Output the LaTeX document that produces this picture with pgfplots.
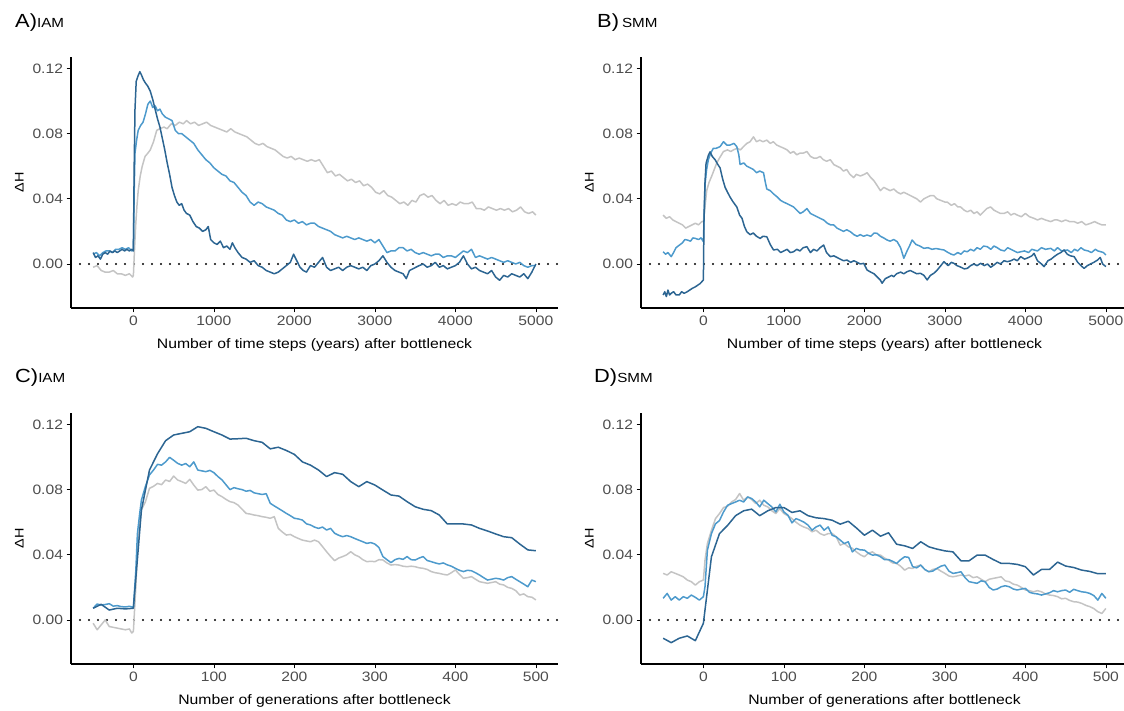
\documentclass[border=0pt]{standalone}
\usepackage{pgfplots}
\pgfplotsset{compat=1.18}
\usepackage{fontspec}
\setmainfont{Liberation Sans}[FakeStretch=1.15]
\definecolor{cgrey}{HTML}{C4C4C4}
\definecolor{clight}{HTML}{4D9ACC}
\definecolor{cdark}{HTML}{2C6592}
\definecolor{labgrey}{HTML}{4D4D4D}
\pgfplotsset{
 panel/.style={
  scale only axis, width=487pt, height=251pt,
  axis x line*=bottom, axis y line*=left,
  ymin=-0.027, ymax=0.127,
  ytick={0,0.04,0.08,0.12},
  scaled y ticks=false, scaled x ticks=false,
  yticklabel style={/pgf/number format/fixed, /pgf/number format/fixed zerofill, /pgf/number format/precision=2},
  xticklabel style={/pgf/number format/1000 sep={}},
  tick align=outside, major tick length=4.5pt,
  tick style={black, line width=0.7pt},
  axis line style={line width=1.1pt, black},
  ticklabel style={font=\fontsize{13.6}{15}\selectfont, text=labgrey},
  /pgf/number format/assume math mode=true,
  xlabel style={font=\fontsize{13.7}{16}\selectfont, at={(axis description cs:0.5,-0.147)}, anchor=center},
  ylabel style={font=\fontsize{12.5}{14}\selectfont, at={(axis description cs:-0.106,0.5)}, anchor=center},
  ylabel={ΔH},
  every axis plot/.append style={line width=1.5pt, line join=round},
 },
 zeroline/.style={black, line width=2.1pt, dash pattern=on 0pt off 9pt, line cap=round},
}
\begin{document}
\begin{tikzpicture}
% ---------------- A
\begin{axis}[panel, at={(71pt,403pt)}, anchor=south west,
  xmin=-775, xmax=5275, xtick={0,1000,2000,3000,4000,5000},
  xlabel={Number of time steps (years) after bottleneck}]
\addplot[zeroline] coordinates {(-775,0) (5275,0)};
\addplot[cgrey] coordinates {(-500,-0.002) (-450,-0.001) (-400,-0.004) (-350,-0.005) (-300,-0.005) (-250,-0.004) (-200,-0.006) (-150,-0.006) (-100,-0.007) (-50,-0.006) (-10,-0.008) (0,-0.007) (15,0.010) (30,0.025) (45,0.036) (60,0.045) (85,0.054) (110,0.060) (145,0.066) (180,0.068) (210,0.070) (250,0.075) (290,0.082) (330,0.083) (380,0.084) (420,0.083) (470,0.086) (520,0.085) (570,0.087) (620,0.086) (660,0.088) (710,0.086) (760,0.087) (810,0.085) (860,0.086) (910,0.087) (960,0.085) (1010,0.084) (1060,0.083) (1110,0.082) (1160,0.081) (1210,0.083) (1260,0.081) (1310,0.080) (1360,0.079) (1410,0.078) (1460,0.076) (1510,0.074) (1560,0.073) (1610,0.074) (1660,0.072) (1710,0.071) (1760,0.070) (1810,0.068) (1860,0.066) (1910,0.065) (1960,0.066) (2010,0.064) (2060,0.065) (2110,0.064) (2160,0.063) (2210,0.064) (2260,0.063) (2310,0.064) (2360,0.060) (2410,0.056) (2460,0.057) (2510,0.054) (2560,0.055) (2610,0.053) (2660,0.051) (2710,0.052) (2760,0.050) (2810,0.051) (2860,0.048) (2910,0.049) (2960,0.047) (3010,0.044) (3060,0.043) (3110,0.045) (3160,0.042) (3210,0.041) (3260,0.039) (3310,0.037) (3360,0.038) (3410,0.036) (3460,0.039) (3510,0.038) (3560,0.042) (3610,0.043) (3660,0.041) (3710,0.042) (3760,0.039) (3810,0.037) (3860,0.039) (3910,0.036) (3960,0.037) (4010,0.036) (4060,0.038) (4110,0.037) (4160,0.037) (4210,0.038) (4260,0.034) (4310,0.034) (4360,0.033) (4410,0.035) (4460,0.034) (4510,0.033) (4560,0.034) (4610,0.033) (4660,0.034) (4710,0.032) (4760,0.033) (4810,0.035) (4860,0.032) (4910,0.031) (4960,0.032) (5000,0.030)};
\addplot[clight] coordinates {(-500,0.006) (-460,0.007) (-420,0.005) (-380,0.007) (-340,0.008) (-300,0.008) (-260,0.007) (-220,0.009) (-180,0.009) (-140,0.010) (-100,0.009) (-60,0.010) (-20,0.008) (0,0.009) (10,0.045) (20,0.068) (40,0.076) (60,0.082) (90,0.085) (120,0.087) (150,0.092) (180,0.098) (210,0.100) (240,0.096) (270,0.097) (300,0.094) (330,0.095) (360,0.092) (400,0.090) (440,0.089) (480,0.088) (520,0.082) (560,0.080) (600,0.080) (650,0.078) (700,0.076) (750,0.074) (800,0.070) (850,0.067) (900,0.064) (950,0.062) (1000,0.059) (1050,0.057) (1100,0.055) (1150,0.054) (1200,0.051) (1250,0.050) (1300,0.047) (1350,0.044) (1400,0.042) (1450,0.038) (1500,0.036) (1550,0.038) (1600,0.037) (1650,0.035) (1700,0.034) (1750,0.033) (1800,0.031) (1850,0.030) (1900,0.027) (1950,0.026) (2000,0.027) (2050,0.025) (2100,0.026) (2150,0.024) (2200,0.025) (2250,0.025) (2300,0.023) (2350,0.022) (2400,0.021) (2450,0.020) (2500,0.018) (2550,0.017) (2600,0.016) (2650,0.017) (2700,0.016) (2750,0.015) (2800,0.016) (2850,0.015) (2900,0.014) (2950,0.015) (3000,0.013) (3050,0.015) (3100,0.011) (3150,0.007) (3200,0.008) (3250,0.008) (3300,0.010) (3350,0.010) (3400,0.008) (3450,0.009) (3500,0.007) (3550,0.006) (3600,0.007) (3650,0.006) (3700,0.005) (3750,0.006) (3800,0.006) (3850,0.004) (3900,0.005) (3950,0.005) (4000,0.004) (4050,0.006) (4100,0.008) (4150,0.007) (4200,0.009) (4250,0.004) (4300,0.005) (4350,0.004) (4400,0.003) (4450,0.004) (4500,0.003) (4550,0.002) (4600,0.001) (4650,0.002) (4700,0.001) (4750,0.000) (4800,0.001) (4850,-0.001) (4900,-0.002) (4950,-0.001) (5000,-0.001)};
\addplot[cdark] coordinates {(-500,0.007) (-470,0.004) (-440,0.005) (-410,0.003) (-380,0.006) (-350,0.007) (-320,0.006) (-290,0.008) (-260,0.007) (-230,0.008) (-200,0.007) (-170,0.008) (-140,0.009) (-110,0.008) (-80,0.009) (-50,0.008) (-20,0.009) (0,0.008) (10,0.060) (20,0.095) (35,0.112) (55,0.115) (80,0.118) (100,0.116) (125,0.113) (150,0.111) (180,0.109) (210,0.106) (240,0.101) (270,0.095) (300,0.089) (330,0.084) (360,0.077) (390,0.070) (420,0.062) (450,0.055) (480,0.047) (510,0.042) (540,0.038) (570,0.036) (600,0.037) (630,0.033) (660,0.031) (700,0.030) (740,0.026) (780,0.023) (820,0.022) (860,0.020) (900,0.021) (930,0.023) (960,0.015) (1000,0.013) (1040,0.012) (1080,0.014) (1120,0.010) (1160,0.011) (1200,0.009) (1230,0.013) (1260,0.010) (1300,0.007) (1350,0.004) (1400,0.003) (1450,0.001) (1500,0.002) (1550,-0.001) (1600,-0.002) (1650,-0.004) (1700,-0.005) (1750,-0.006) (1800,-0.005) (1850,-0.003) (1900,-0.001) (1950,0.001) (1990,0.006) (2030,0.002) (2070,-0.002) (2110,-0.004) (2150,-0.005) (2200,-0.001) (2250,-0.002) (2300,0.001) (2350,0.004) (2400,-0.002) (2450,-0.004) (2500,-0.003) (2550,-0.002) (2600,-0.004) (2650,-0.002) (2700,-0.001) (2750,-0.002) (2800,-0.003) (2850,-0.002) (2900,-0.004) (2950,-0.001) (3000,0.000) (3050,0.002) (3100,0.005) (3150,0.001) (3200,-0.002) (3250,-0.004) (3300,-0.005) (3350,-0.006) (3390,-0.009) (3430,-0.004) (3470,-0.003) (3510,-0.002) (3550,-0.001) (3600,0.000) (3650,-0.002) (3700,-0.001) (3750,0.001) (3800,-0.002) (3850,-0.001) (3900,-0.003) (3950,-0.002) (4000,-0.001) (4050,0.001) (4100,0.005) (4150,0.000) (4200,-0.003) (4250,-0.002) (4300,-0.004) (4350,-0.005) (4400,-0.006) (4450,-0.004) (4500,-0.008) (4550,-0.010) (4600,-0.007) (4650,-0.008) (4700,-0.006) (4750,-0.007) (4800,-0.008) (4850,-0.006) (4900,-0.009) (4950,-0.005) (5000,0.000)};
\end{axis}
% ---------------- B
\begin{axis}[panel, at={(641pt,403pt)}, anchor=south west,
  xmin=-775, xmax=5275, xtick={0,1000,2000,3000,4000,5000},
  xlabel={Number of time steps (years) after bottleneck}]
\addplot[zeroline] coordinates {(-775,0) (5275,0)};
\addplot[cgrey] coordinates {(-500,0.030) (-460,0.028) (-420,0.029) (-380,0.027) (-340,0.026) (-300,0.025) (-260,0.024) (-220,0.022) (-180,0.023) (-140,0.024) (-100,0.025) (-60,0.024) (-20,0.026) (0,0.026) (20,0.035) (41,0.045) (70,0.050) (104,0.054) (135,0.058) (166,0.062) (200,0.065) (249,0.069) (300,0.070) (340,0.069) (373,0.070) (420,0.071) (460,0.070) (498,0.072) (540,0.074) (580,0.075) (622,0.078) (660,0.075) (700,0.076) (740,0.075) (788,0.076) (830,0.074) (870,0.075) (910,0.073) (954,0.072) (1000,0.071) (1040,0.070) (1080,0.068) (1120,0.069) (1160,0.067) (1200,0.068) (1240,0.068) (1286,0.069) (1330,0.066) (1370,0.065) (1411,0.065) (1450,0.066) (1490,0.064) (1530,0.063) (1577,0.064) (1620,0.061) (1660,0.060) (1701,0.059) (1740,0.057) (1780,0.058) (1820,0.055) (1867,0.053) (1900,0.055) (1950,0.054) (2000,0.055) (2033,0.056) (2080,0.053) (2120,0.051) (2160,0.048) (2199,0.045) (2240,0.047) (2280,0.046) (2320,0.045) (2365,0.046) (2410,0.044) (2450,0.043) (2490,0.044) (2531,0.043) (2570,0.042) (2610,0.041) (2650,0.040) (2697,0.038) (2740,0.040) (2780,0.041) (2822,0.042) (2860,0.042) (2900,0.040) (2950,0.039) (3000,0.038) (3029,0.038) (3080,0.036) (3120,0.037) (3160,0.035) (3195,0.035) (3240,0.033) (3280,0.032) (3320,0.033) (3361,0.031) (3400,0.032) (3440,0.030) (3480,0.032) (3520,0.034) (3568,0.035) (3610,0.033) (3650,0.032) (3690,0.031) (3734,0.031) (3780,0.032) (3820,0.030) (3860,0.031) (3900,0.030) (3950,0.029) (4000,0.031) (4050,0.029) (4108,0.028) (4150,0.027) (4200,0.028) (4250,0.027) (4315,0.026) (4360,0.027) (4400,0.027) (4450,0.026) (4500,0.027) (4550,0.026) (4606,0.026) (4650,0.025) (4700,0.026) (4750,0.024) (4813,0.025) (4860,0.026) (4900,0.025) (4950,0.024) (5000,0.024)};
\addplot[clight] coordinates {(-500,0.0075) (-470,0.006) (-440,0.007) (-400,0.0045) (-370,0.007) (-340,0.010) (-300,0.0115) (-260,0.013) (-230,0.015) (-200,0.0147) (-160,0.014) (-130,0.016) (-100,0.0157) (-60,0.015) (-30,0.016) (0,0.0137) (10,0.030) (21,0.049) (40,0.058) (62,0.064) (90,0.068) (124,0.071) (160,0.071) (207,0.072) (249,0.075) (290,0.073) (332,0.073) (380,0.074) (415,0.072) (440,0.067) (456,0.061) (500,0.062) (540,0.060) (581,0.059) (620,0.058) (660,0.056) (700,0.057) (747,0.056) (770,0.050) (788,0.046) (830,0.045) (871,0.043) (920,0.041) (960,0.039) (996,0.038) (1040,0.037) (1080,0.036) (1120,0.035) (1160,0.033) (1203,0.031) (1240,0.032) (1286,0.034) (1330,0.031) (1370,0.030) (1411,0.029) (1450,0.028) (1494,0.027) (1540,0.025) (1580,0.024) (1618,0.024) (1660,0.022) (1700,0.021) (1740,0.020) (1780,0.021) (1826,0.0198) (1870,0.018) (1910,0.017) (1950,0.018) (1990,0.017) (2033,0.0178) (2080,0.017) (2120,0.019) (2158,0.0188) (2200,0.017) (2240,0.016) (2282,0.0147) (2320,0.014) (2365,0.015) (2407,0.0137) (2450,0.010) (2490,0.0035) (2530,0.008) (2560,0.011) (2593,0.0147) (2640,0.012) (2690,0.011) (2739,0.0096) (2790,0.010) (2840,0.009) (2890,0.0095) (2940,0.009) (2988,0.0086) (3040,0.007) (3080,0.006) (3112,0.0055) (3160,0.007) (3200,0.006) (3240,0.008) (3278,0.0075) (3320,0.009) (3360,0.008) (3400,0.010) (3440,0.009) (3480,0.011) (3527,0.0106) (3570,0.009) (3610,0.011) (3650,0.010) (3693,0.0086) (3740,0.008) (3780,0.010) (3820,0.009) (3860,0.008) (3900,0.007) (3942,0.0075) (3990,0.008) (4040,0.007) (4080,0.009) (4108,0.0086) (4150,0.008) (4200,0.010) (4250,0.009) (4315,0.0096) (4360,0.008) (4400,0.010) (4450,0.008) (4523,0.0086) (4570,0.007) (4610,0.009) (4650,0.008) (4690,0.010) (4730,0.0086) (4780,0.008) (4820,0.007) (4870,0.009) (4900,0.008) (4938,0.0075) (4970,0.007) (5000,0.0055)};
\addplot[cdark] coordinates {(-500,-0.019) (-480,-0.017) (-460,-0.020) (-440,-0.016) (-420,-0.019) (-400,-0.018) (-370,-0.017) (-340,-0.019) (-300,-0.019) (-270,-0.017) (-240,-0.018) (-200,-0.017) (-170,-0.016) (-140,-0.015) (-100,-0.014) (-70,-0.013) (-40,-0.012) (0,-0.0098) (8,0.029) (20,0.050) (33,0.0617) (62,0.0667) (83,0.0688) (110,0.066) (145,0.064) (180,0.061) (207,0.059) (240,0.052) (270,0.047) (300,0.044) (332,0.041) (370,0.038) (415,0.035) (450,0.030) (480,0.028) (510,0.023) (539,0.0198) (580,0.018) (620,0.019) (660,0.017) (705,0.0157) (740,0.017) (788,0.0167) (830,0.012) (871,0.0086) (920,0.009) (960,0.007) (1000,0.008) (1040,0.009) (1080,0.007) (1120,0.0075) (1160,0.009) (1200,0.008) (1240,0.010) (1286,0.0106) (1330,0.007) (1370,0.009) (1410,0.008) (1450,0.010) (1494,0.0116) (1530,0.007) (1577,0.0045) (1620,0.005) (1660,0.004) (1700,0.003) (1740,0.002) (1784,0.0024) (1830,0.001) (1870,0.002) (1910,0.001) (1950,0.000) (1992,0.0004) (2033,-0.0037) (2080,-0.005) (2120,-0.006) (2160,-0.008) (2200,-0.010) (2220,-0.0118) (2260,-0.009) (2300,-0.008) (2340,-0.007) (2365,-0.0078) (2400,-0.006) (2450,-0.005) (2490,-0.006) (2531,-0.0047) (2570,-0.004) (2610,-0.005) (2650,-0.006) (2697,-0.0057) (2740,-0.007) (2780,-0.0098) (2820,-0.007) (2863,-0.0057) (2900,-0.004) (2950,-0.001) (2988,0.0014) (3040,-0.001) (3080,0.001) (3112,0.0004) (3150,-0.001) (3200,-0.002) (3240,-0.003) (3278,-0.0027) (3320,-0.001) (3360,0.000) (3400,-0.001) (3444,0.0004) (3490,-0.001) (3530,0.000) (3570,-0.002) (3610,-0.0006) (3650,0.001) (3690,0.000) (3735,0.002) (3776,0.0014) (3820,0.002) (3860,0.003) (3900,0.002) (3942,0.0045) (3990,0.003) (4040,0.004) (4080,0.005) (4108,0.0065) (4150,0.002) (4200,0.000) (4232,-0.0016) (4280,0.002) (4320,0.003) (4357,0.0045) (4400,0.006) (4440,0.007) (4481,0.0086) (4520,0.006) (4560,0.005) (4606,0.0045) (4650,0.001) (4690,-0.001) (4730,-0.0027) (4770,-0.001) (4810,0.000) (4850,0.001) (4896,0.0024) (4930,0.004) (4960,0.000) (5000,-0.0016)};
\end{axis}
% ---------------- C
\begin{axis}[panel, at={(71pt,47pt)}, anchor=south west,
  xmin=-77.5, xmax=527.5, xtick={0,100,200,300,400,500},
  xlabel={Number of generations after bottleneck}]
\addplot[zeroline] coordinates {(-77.5,0) (527.5,0)};
\addplot[cgrey] coordinates {(-50,-0.002) (-45,-0.006) (-40,-0.003) (-35,0.000) (-30,-0.004) (-25,-0.0045) (-20,-0.005) (-15,-0.0055) (-10,-0.006) (-5,-0.0055) (-2,-0.008) (0,-0.007) (3,0.020) (5,0.043) (8,0.060) (10,0.0675) (15,0.0726) (20,0.0808) (25,0.082) (30,0.0838) (35,0.083) (40,0.0859) (45,0.085) (50,0.0883) (55,0.0859) (60,0.0849) (65,0.0838) (70,0.0863) (75,0.0828) (80,0.0797) (85,0.080) (90,0.0818) (95,0.079) (100,0.0797) (105,0.077) (110,0.0757) (115,0.074) (120,0.0726) (125,0.072) (130,0.0705) (135,0.068) (140,0.0654) (145,0.065) (150,0.0644) (155,0.064) (160,0.0634) (165,0.063) (170,0.0624) (175,0.0634) (180,0.0562) (185,0.054) (190,0.0521) (195,0.0525) (200,0.0511) (205,0.050) (210,0.049) (215,0.0485) (220,0.048) (225,0.049) (230,0.048) (235,0.045) (240,0.0419) (245,0.039) (250,0.0364) (255,0.038) (260,0.0389) (265,0.040) (270,0.0419) (275,0.040) (280,0.0389) (285,0.037) (290,0.0358) (295,0.036) (300,0.0358) (305,0.037) (310,0.0368) (315,0.035) (320,0.0337) (325,0.034) (330,0.0337) (335,0.033) (340,0.0327) (345,0.033) (350,0.0327) (355,0.032) (360,0.0317) (365,0.031) (370,0.0297) (375,0.029) (380,0.0286) (385,0.028) (390,0.0276) (395,0.029) (400,0.0307) (405,0.028) (410,0.0256) (415,0.026) (420,0.0266) (425,0.025) (430,0.0235) (435,0.023) (440,0.0225) (445,0.023) (450,0.0235) (455,0.022) (460,0.0215) (465,0.020) (470,0.0194) (475,0.018) (480,0.0153) (485,0.016) (490,0.0143) (495,0.014) (500,0.0123)};
\addplot[clight] coordinates {(-50,0.0072) (-45,0.0098) (-40,0.0092) (-35,0.0095) (-30,0.010) (-25,0.0085) (-20,0.0088) (-15,0.0082) (-10,0.0080) (-5,0.0084) (0,0.0078) (3,0.030) (5,0.053) (8,0.066) (10,0.0736) (15,0.082) (20,0.089) (25,0.092) (30,0.0955) (35,0.095) (40,0.097) (45,0.0998) (50,0.098) (55,0.0961) (60,0.095) (65,0.096) (70,0.094) (75,0.097) (80,0.092) (85,0.0915) (90,0.091) (95,0.0918) (100,0.0904) (105,0.088) (110,0.086) (115,0.083) (120,0.080) (125,0.0812) (130,0.0805) (135,0.080) (140,0.079) (145,0.0795) (150,0.078) (155,0.0775) (160,0.077) (165,0.0775) (170,0.0716) (175,0.070) (180,0.0685) (185,0.067) (190,0.0654) (195,0.064) (200,0.0624) (205,0.062) (210,0.0613) (215,0.059) (220,0.0583) (225,0.057) (230,0.0562) (235,0.057) (240,0.0552) (245,0.0562) (250,0.0532) (255,0.052) (260,0.0511) (265,0.0518) (270,0.0511) (275,0.050) (280,0.049) (285,0.048) (290,0.047) (295,0.0475) (300,0.0466) (305,0.0445) (310,0.0389) (315,0.037) (320,0.0352) (325,0.037) (330,0.0378) (335,0.0372) (340,0.0389) (345,0.037) (350,0.0368) (355,0.038) (360,0.0389) (365,0.0365) (370,0.0358) (375,0.0350) (380,0.0344) (385,0.0350) (390,0.0338) (395,0.0330) (400,0.0317) (405,0.0305) (410,0.0297) (415,0.0305) (420,0.0302) (425,0.0290) (430,0.0276) (435,0.026) (440,0.0245) (445,0.025) (450,0.0256) (455,0.0252) (460,0.0245) (465,0.026) (470,0.0266) (475,0.025) (480,0.0235) (485,0.022) (490,0.0204) (495,0.0245) (500,0.0235)};
\addplot[cdark] coordinates {(-50,0.0072) (-40,0.0096) (-30,0.0061) (-20,0.0072) (-10,0.0068) (0,0.0072) (10,0.0675) (20,0.092) (30,0.102) (40,0.110) (50,0.1135) (60,0.1145) (70,0.1155) (80,0.1186) (90,0.1176) (100,0.1155) (110,0.1135) (120,0.111) (130,0.1112) (140,0.1115) (150,0.110) (160,0.109) (170,0.105) (180,0.106) (190,0.104) (200,0.1016) (210,0.097) (220,0.095) (230,0.092) (240,0.088) (250,0.0904) (260,0.0894) (270,0.0849) (280,0.0818) (290,0.0849) (300,0.0828) (310,0.0797) (320,0.0767) (330,0.076) (340,0.0726) (350,0.0695) (360,0.0679) (370,0.0671) (380,0.0644) (390,0.0589) (400,0.0589) (410,0.0589) (420,0.0583) (430,0.0562) (440,0.0546) (450,0.0528) (460,0.0511) (470,0.0505) (480,0.0466) (490,0.043) (500,0.0425)};
\end{axis}
% ---------------- D
\begin{axis}[panel, at={(641pt,47pt)}, anchor=south west,
  xmin=-77.5, xmax=527.5, xtick={0,100,200,300,400,500},
  xlabel={Number of generations after bottleneck}]
\addplot[zeroline] coordinates {(-77.5,0) (527.5,0)};
\addplot[cgrey] coordinates {(-50,0.0286) (-45,0.0276) (-40,0.0296) (-35,0.0286) (-30,0.0276) (-25,0.0265) (-20,0.0245) (-15,0.0235) (-10,0.0214) (-5,0.0235) (0,0.0245) (2,0.0367) (5,0.047) (10,0.055) (15,0.0622) (20,0.0653) (25,0.069) (30,0.0698) (35,0.0724) (40,0.0739) (45,0.0776) (50,0.0735) (55,0.0755) (60,0.0739) (65,0.0714) (70,0.0735) (75,0.0704) (80,0.0694) (85,0.067) (90,0.0653) (95,0.0684) (100,0.0653) (105,0.064) (110,0.0622) (115,0.060) (120,0.0582) (125,0.057) (130,0.0561) (135,0.0541) (140,0.0551) (145,0.053) (150,0.052) (155,0.053) (160,0.0531) (165,0.051) (170,0.0459) (175,0.047) (180,0.0449) (185,0.044) (190,0.0418) (195,0.040) (200,0.0388) (205,0.041) (210,0.0418) (215,0.040) (220,0.0398) (225,0.038) (230,0.0367) (235,0.035) (240,0.0347) (245,0.033) (250,0.0306) (255,0.032) (260,0.0316) (265,0.033) (270,0.0337) (275,0.031) (280,0.0296) (285,0.031) (290,0.0316) (295,0.030) (300,0.0286) (305,0.027) (310,0.0265) (315,0.027) (320,0.0276) (325,0.027) (330,0.0276) (335,0.026) (340,0.0265) (345,0.025) (350,0.0235) (355,0.025) (360,0.0255) (365,0.026) (370,0.0265) (375,0.024) (380,0.0235) (385,0.022) (390,0.0214) (395,0.020) (400,0.0184) (405,0.018) (410,0.0173) (415,0.018) (420,0.0173) (425,0.016) (430,0.0153) (435,0.015) (440,0.0143) (445,0.013) (450,0.0133) (455,0.012) (460,0.0112) (465,0.011) (470,0.0102) (475,0.009) (480,0.0082) (485,0.007) (490,0.0051) (495,0.004) (500,0.0071)};
\addplot[clight] coordinates {(-50,0.0133) (-45,0.0163) (-40,0.0122) (-35,0.0143) (-30,0.0122) (-25,0.0143) (-20,0.0133) (-15,0.0153) (-10,0.0139) (-5,0.0122) (0,0.0143) (2,0.0204) (5,0.0429) (10,0.053) (15,0.059) (20,0.061) (25,0.0663) (30,0.0704) (35,0.0714) (40,0.0724) (45,0.0735) (50,0.0724) (55,0.0755) (60,0.0745) (65,0.0724) (70,0.0694) (75,0.0735) (80,0.0714) (85,0.0694) (90,0.0663) (95,0.071) (100,0.0663) (105,0.0643) (110,0.0596) (115,0.0622) (120,0.0612) (125,0.060) (130,0.0582) (135,0.0551) (140,0.0571) (145,0.0582) (150,0.0551) (155,0.0571) (160,0.052) (165,0.051) (170,0.049) (175,0.0469) (180,0.048) (185,0.0418) (190,0.0439) (195,0.043) (200,0.0429) (205,0.041) (210,0.0398) (215,0.040) (220,0.0388) (225,0.037) (230,0.0371) (235,0.036) (240,0.0347) (245,0.037) (250,0.0388) (255,0.0384) (260,0.0327) (265,0.032) (270,0.0337) (275,0.031) (280,0.0296) (285,0.030) (290,0.0316) (295,0.033) (300,0.0337) (305,0.030) (310,0.0286) (315,0.029) (320,0.0296) (325,0.026) (330,0.0235) (335,0.023) (340,0.0225) (345,0.024) (350,0.0235) (355,0.020) (360,0.0184) (365,0.019) (370,0.0204) (375,0.021) (380,0.0204) (385,0.019) (390,0.0184) (395,0.019) (400,0.0194) (405,0.017) (410,0.0163) (415,0.016) (420,0.0153) (425,0.016) (430,0.0167) (435,0.018) (440,0.0173) (445,0.018) (450,0.0184) (455,0.017) (460,0.0188) (465,0.018) (470,0.0173) (475,0.017) (480,0.0163) (485,0.015) (490,0.0122) (495,0.0163) (500,0.0133)};
\addplot[cdark] coordinates {(-50,-0.0112) (-40,-0.0139) (-30,-0.0112) (-20,-0.0098) (-10,-0.0127) (0,-0.002) (10,0.0388) (20,0.053) (30,0.058) (40,0.064) (50,0.067) (60,0.068) (70,0.064) (80,0.067) (90,0.069) (100,0.069) (110,0.066) (120,0.067) (130,0.064) (140,0.0627) (150,0.0622) (160,0.0612) (170,0.0588) (180,0.0606) (190,0.0565) (200,0.052) (210,0.0551) (220,0.0514) (230,0.0535) (240,0.0465) (250,0.0455) (260,0.0439) (270,0.048) (280,0.0449) (290,0.0435) (300,0.0424) (310,0.0418) (320,0.0363) (330,0.0363) (340,0.0398) (350,0.0398) (360,0.0371) (370,0.0347) (380,0.0347) (390,0.0341) (400,0.0327) (410,0.0276) (420,0.031) (430,0.031) (440,0.0355) (450,0.0331) (460,0.0322) (470,0.0306) (480,0.0298) (490,0.0284) (500,0.0284)};
\end{axis}
% panel titles
\node[anchor=base west, inner sep=0pt] at (15pt,683pt) {\fontsize{19}{21}\selectfont A)\fontsize{13.2}{15}\selectfont IAM};
\node[anchor=base west, inner sep=0pt] at (597pt,683pt) {\fontsize{19}{21}\selectfont B)\kern3pt\fontsize{13.2}{15}\selectfont SMM};
\node[anchor=base west, inner sep=0pt] at (15pt,328pt) {\fontsize{19}{21}\selectfont C)\fontsize{13.2}{15}\selectfont IAM};
\node[anchor=base west, inner sep=0pt] at (594pt,328pt) {\fontsize{19}{21}\selectfont D)\fontsize{13.2}{15}\selectfont SMM};
\pgfresetboundingbox
\path[use as bounding box] (0,0) rectangle (1124pt,711pt);
\end{tikzpicture}
\end{document}
